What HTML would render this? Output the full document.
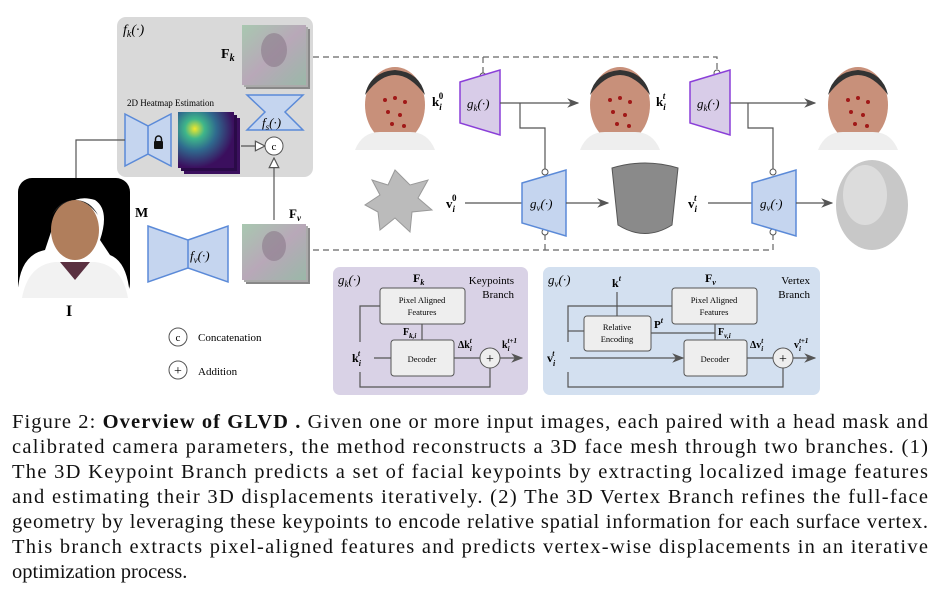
<!DOCTYPE html>
<html><head><meta charset="utf-8"><style>body{margin:0;background:#fff}svg{display:block}</style></head><body>
<svg width="941" height="593" viewBox="0 0 941 593" xmlns="http://www.w3.org/2000/svg" font-family="Liberation Serif, serif">
<defs>
<radialGradient id="hm" cx="0.3" cy="0.3" r="0.7"><stop offset="0" stop-color="#f2e82a"/><stop offset="0.25" stop-color="#3fb68a"/><stop offset="0.55" stop-color="#2f6a8e"/><stop offset="1" stop-color="#3b0f5e"/></radialGradient>
<linearGradient id="ft" x1="0" y1="0" x2="1" y2="1"><stop offset="0" stop-color="#a8c8b0"/><stop offset="0.5" stop-color="#b8a8b8"/><stop offset="1" stop-color="#9ab8a8"/></linearGradient>
<marker id="ar" markerWidth="10" markerHeight="8" refX="9" refY="4" orient="auto"><path d="M0,0 L10,4 L0,8 L3,4z" fill="#555"/></marker>
<marker id="oa" markerWidth="10" markerHeight="10" refX="9" refY="5" orient="auto"><path d="M1,1 L9,5 L1,9z" fill="#fff" stroke="#555" stroke-width="1"/></marker>
</defs>
<rect x="117" y="17" width="196" height="160" rx="9" fill="#d9d9d9"/>
<text x="123" y="34" font-size="14" font-style="italic">f<tspan font-size="10" dy="3">k</tspan><tspan dy="-3">(·)</tspan></text>
<text x="221" y="58" font-size="14" font-weight="bold">F<tspan font-size="10" font-style="italic" dy="3">k</tspan></text>
<g><rect x="246" y="29" width="64" height="60" fill="#888"/><rect x="244" y="27" width="64" height="60" fill="#aaa"/><rect x="242" y="25" width="64" height="60" fill="url(#ft)"/><ellipse cx="274" cy="50" rx="13" ry="17" fill="#8a7a8a" opacity="0.6"/></g>
<path d="M247,95 L303,95 L285,112 L303,130 L247,130 L265,112z" fill="#c5d5ef" stroke="#5b8ad8" stroke-width="1.5"/>
<text x="262" y="127" font-size="13" font-style="italic">f<tspan font-size="9" dy="3">s</tspan><tspan dy="-3">(·)</tspan></text>
<text x="127" y="106" font-size="9">2D Heatmap Estimation</text>
<path d="M125,114 L148,126 L148,154 L125,166z M148,126 L171,114 L171,166 L148,154z" fill="#c5d5ef" stroke="#5b8ad8" stroke-width="1.5"/>
<rect x="154" y="141" width="9" height="8" rx="1" fill="#111"/><path d="M155.5,142 v-3 a3,3 0 0 1 6,0 v3" fill="none" stroke="#111" stroke-width="1.5"/>
<rect x="184" y="118" width="56" height="56" fill="#3b0f5e"/><rect x="181" y="115" width="56" height="56" fill="#2a0a48"/><rect x="178" y="112" width="56" height="56" fill="url(#hm)"/>
<line x1="241" y1="146" x2="265" y2="146" stroke="#555" stroke-width="1.2" marker-end="url(#oa)"/>
<circle cx="274" cy="146" r="9" fill="#fff" stroke="#555"/><text x="274" y="150" font-size="11" text-anchor="middle">c</text>
<line x1="274" y1="220" x2="274" y2="158" stroke="#555" stroke-width="1.2" marker-end="url(#oa)"/>
<polyline points="125,140 76,140 76,178" fill="none" stroke="#555" stroke-width="1.2"/>
<rect x="18" y="178" width="112" height="120" rx="14" fill="#000"/>
<path d="M18,290 Q20,255 45,250 L55,220 Q70,192 95,200 Q110,210 100,240 L110,255 Q128,262 130,298 L18,298z" fill="#fff"/>
<ellipse cx="75" cy="230" rx="24" ry="30" fill="#b07e5c"/><path d="M52,215 Q75,185 98,215 Q90,200 75,200 Q60,200 52,215z" fill="#222"/>
<path d="M22,298 Q28,265 55,262 L95,262 Q122,265 128,298z" fill="#f2f2f2"/><path d="M60,262 L75,280 L90,262z" fill="#5a3040"/>
<text x="66" y="316" font-size="16" font-weight="bold">I</text>
<text x="135" y="217" font-size="14" font-weight="bold">M</text>
<path d="M148,226 L188,240 L188,268 L148,282z M188,240 L228,226 L228,282 L188,268z" fill="#c5d5ef" stroke="#5b8ad8" stroke-width="1.5"/>
<text x="190" y="260" font-size="13" font-style="italic">f<tspan font-size="9" dy="3">v</tspan><tspan dy="-3">(·)</tspan></text>
<text x="289" y="218" font-size="13" font-weight="bold">F<tspan font-size="9" font-style="italic" dy="3">v</tspan></text>
<g><rect x="246" y="228" width="64" height="56" fill="#888"/><rect x="244" y="226" width="64" height="56" fill="#aaa"/><rect x="242" y="224" width="64" height="56" fill="url(#ft)"/><ellipse cx="274" cy="246" rx="12" ry="15" fill="#8a7a8a" opacity="0.6"/></g>
<polyline points="313,57 717,57 717,70" fill="none" stroke="#666" stroke-width="1.2" stroke-dasharray="6,4"/>
<line x1="483" y1="57" x2="483" y2="78" stroke="#666" stroke-width="1.2" stroke-dasharray="6,4"/>
<polyline points="313,250 773,250 773,232" fill="none" stroke="#666" stroke-width="1.2" stroke-dasharray="6,4"/>
<line x1="545" y1="250" x2="545" y2="232" stroke="#666" stroke-width="1.2" stroke-dasharray="6,4"/>
<circle cx="483" cy="76" r="3" fill="#fff" stroke="#555"/><circle cx="717" cy="73" r="3" fill="#fff" stroke="#555"/>
<circle cx="545" cy="232" r="3" fill="#fff" stroke="#555"/><circle cx="773" cy="232" r="3" fill="#fff" stroke="#555"/>
<g id="face"><ellipse cx="395" cy="105" rx="30" ry="38" fill="#c8907a"/><path d="M365,95 Q395,55 425,95 Q420,72 395,70 Q370,72 365,95z" fill="#333"/><path d="M355,150 Q362,132 380,132 L410,132 Q428,132 435,150z" fill="#eee"/></g>
<g fill="#a01818"><circle cx="385" cy="100" r="2"/><circle cx="395" cy="98" r="2"/><circle cx="405" cy="102" r="2"/><circle cx="388" cy="112" r="2"/><circle cx="400" cy="115" r="2"/><circle cx="392" cy="124" r="2"/><circle cx="404" cy="126" r="2"/></g>
<text x="432" y="106" font-size="13" font-weight="bold">k<tspan font-size="9" font-style="italic" dy="4">i</tspan><tspan font-size="9" dx="-3" dy="-11">0</tspan></text>
<path d="M460,82 L500,70 L500,135 L460,123z" fill="#d8cce8" stroke="#8a3fd8" stroke-width="1.5"/>
<text x="467" y="108" font-size="13" font-style="italic">g<tspan font-size="9" dy="3">k</tspan><tspan dy="-3">(·)</tspan></text>
<line x1="500" y1="103" x2="578" y2="103" stroke="#555" stroke-width="1.2" marker-end="url(#ar)"/>
<use href="#face" x="225"/>
<g fill="#a01818" transform="translate(225,0)"><circle cx="385" cy="100" r="2"/><circle cx="395" cy="98" r="2"/><circle cx="405" cy="102" r="2"/><circle cx="388" cy="112" r="2"/><circle cx="400" cy="115" r="2"/><circle cx="392" cy="124" r="2"/><circle cx="404" cy="126" r="2"/></g>
<text x="656" y="106" font-size="13" font-weight="bold">k<tspan font-size="9" font-style="italic" dy="4">i</tspan><tspan font-size="9" font-style="italic" dx="-3" dy="-11">t</tspan></text>
<path d="M690,82 L730,70 L730,135 L690,123z" fill="#d8cce8" stroke="#8a3fd8" stroke-width="1.5"/>
<text x="697" y="108" font-size="13" font-style="italic">g<tspan font-size="9" dy="3">k</tspan><tspan dy="-3">(·)</tspan></text>
<line x1="730" y1="103" x2="815" y2="103" stroke="#555" stroke-width="1.2" marker-end="url(#ar)"/>
<use href="#face" x="463"/>
<g fill="#a01818" transform="translate(463,0)"><circle cx="385" cy="100" r="2"/><circle cx="395" cy="98" r="2"/><circle cx="405" cy="102" r="2"/><circle cx="388" cy="112" r="2"/><circle cx="400" cy="115" r="2"/><circle cx="392" cy="124" r="2"/><circle cx="404" cy="126" r="2"/></g>
<polyline points="520,103 520,128 545,128 545,170" fill="none" stroke="#555" stroke-width="1.2"/>
<circle cx="545" cy="172" r="3" fill="#fff" stroke="#555"/>
<polyline points="748,103 748,128 773,128 773,170" fill="none" stroke="#555" stroke-width="1.2"/>
<circle cx="773" cy="172" r="3" fill="#fff" stroke="#555"/>
<polygon points="395,170 410,185 428,180 418,198 432,210 412,212 410,232 395,218 380,230 378,212 365,205 380,195 372,180 388,185" fill="#bbb" stroke="#999"/>
<text x="446" y="208" font-size="13" font-weight="bold">v<tspan font-size="9" font-style="italic" dy="4">i</tspan><tspan font-size="9" dx="-3" dy="-11">0</tspan></text>
<line x1="465" y1="203" x2="522" y2="203" stroke="#555" stroke-width="1.2"/>
<path d="M522,183 L566,170 L566,236 L522,223z" fill="#c5d5ef" stroke="#5b8ad8" stroke-width="1.5"/>
<text x="530" y="208" font-size="13" font-style="italic">g<tspan font-size="9" dy="3">v</tspan><tspan dy="-3">(·)</tspan></text>
<line x1="566" y1="203" x2="608" y2="203" stroke="#555" stroke-width="1.2" marker-end="url(#ar)"/>
<path d="M612,168 Q645,158 678,168 L672,225 Q645,242 618,225z" fill="#8a8a8a" stroke="#555"/>
<text x="688" y="208" font-size="13" font-weight="bold">v<tspan font-size="9" font-style="italic" dy="4">i</tspan><tspan font-size="9" font-style="italic" dx="-3" dy="-11">t</tspan></text>
<line x1="708" y1="203" x2="752" y2="203" stroke="#555" stroke-width="1.2"/>
<path d="M752,183 L796,170 L796,236 L752,223z" fill="#c5d5ef" stroke="#5b8ad8" stroke-width="1.5"/>
<text x="760" y="208" font-size="13" font-style="italic">g<tspan font-size="9" dy="3">v</tspan><tspan dy="-3">(·)</tspan></text>
<line x1="796" y1="203" x2="832" y2="203" stroke="#555" stroke-width="1.2" marker-end="url(#ar)"/>
<ellipse cx="872" cy="205" rx="36" ry="45" fill="#c8c8c8"/><ellipse cx="865" cy="195" rx="22" ry="30" fill="#dcdcdc"/>
<circle cx="178" cy="337" r="9" fill="#fff" stroke="#555"/><text x="178" y="341" font-size="11" text-anchor="middle">c</text>
<text x="198" y="341" font-size="11">Concatenation</text>
<circle cx="178" cy="370" r="9" fill="#fff" stroke="#555"/><text x="178" y="375" font-size="14" text-anchor="middle">+</text>
<text x="198" y="375" font-size="11">Addition</text>
<rect x="333" y="267" width="195" height="128" rx="7" fill="#d9d2e6"/>
<text x="338" y="284" font-size="13" font-style="italic">g<tspan font-size="9" dy="3">k</tspan><tspan dy="-3">(·)</tspan></text>
<text x="413" y="282" font-size="12" font-weight="bold">F<tspan font-size="8" font-style="italic" dy="3">k</tspan></text>
<text x="514" y="284" font-size="11" text-anchor="end">Keypoints</text><text x="514" y="298" font-size="11" text-anchor="end">Branch</text>
<rect x="380" y="288" width="85" height="36" rx="3" fill="#eee" stroke="#555"/>
<text x="422" y="303" font-size="8.5" text-anchor="middle">Pixel Aligned</text><text x="422" y="315" font-size="8.5" text-anchor="middle">Features</text>
<polyline points="380,306 360,306 360,342" fill="none" stroke="#555" stroke-width="1.2"/>
<line x1="422" y1="324" x2="422" y2="340" stroke="#555" stroke-width="1.2"/>
<text x="403" y="335" font-size="10" font-weight="bold">F<tspan font-size="7" font-style="italic" dy="3">k,i</tspan></text>
<rect x="391" y="340" width="63" height="36" rx="3" fill="#eee" stroke="#555"/>
<text x="422" y="362" font-size="8.5" text-anchor="middle">Decoder</text>
<text x="352" y="362" font-size="12" font-weight="bold">k<tspan font-size="8" font-style="italic" dy="4">i</tspan><tspan font-size="8" font-style="italic" dx="-3" dy="-10">t</tspan></text>
<line x1="374" y1="358" x2="391" y2="358" stroke="#555" stroke-width="1.2"/>
<line x1="454" y1="358" x2="480" y2="358" stroke="#555" stroke-width="1.2"/>
<text x="458" y="348" font-size="10" font-weight="bold">Δk<tspan font-size="7" font-style="italic" dy="3">i</tspan><tspan font-size="7" font-style="italic" dx="-2" dy="-8">t</tspan></text>
<circle cx="490" cy="358" r="10" fill="#eee" stroke="#555"/><text x="490" y="363" font-size="14" text-anchor="middle">+</text>
<line x1="500" y1="358" x2="522" y2="358" stroke="#555" stroke-width="1.2" marker-end="url(#ar)"/>
<text x="502" y="348" font-size="10" font-weight="bold">k<tspan font-size="7" font-style="italic" dy="3">i</tspan><tspan font-size="7" font-style="italic" dx="-2" dy="-8">t+1</tspan></text>
<polyline points="360,372 360,387 490,387 490,368" fill="none" stroke="#555" stroke-width="1.2"/>
<rect x="543" y="267" width="277" height="128" rx="7" fill="#d3e0f0"/>
<text x="548" y="284" font-size="13" font-style="italic">g<tspan font-size="9" dy="3">v</tspan><tspan dy="-3">(·)</tspan></text>
<text x="612" y="287" font-size="12" font-weight="bold">k<tspan font-size="8" font-style="italic" dy="-6">t</tspan></text>
<text x="705" y="282" font-size="12" font-weight="bold">F<tspan font-size="8" font-style="italic" dy="3">v</tspan></text>
<text x="810" y="284" font-size="11" text-anchor="end">Vertex</text><text x="810" y="298" font-size="11" text-anchor="end">Branch</text>
<rect x="672" y="288" width="85" height="36" rx="3" fill="#eee" stroke="#555"/>
<text x="714" y="303" font-size="8.5" text-anchor="middle">Pixel Aligned</text><text x="714" y="315" font-size="8.5" text-anchor="middle">Features</text>
<polyline points="672,306 568,306 568,342" fill="none" stroke="#555" stroke-width="1.2"/>
<line x1="617" y1="292" x2="617" y2="316" stroke="#555" stroke-width="1.2"/>
<line x1="568" y1="331" x2="584" y2="331" stroke="#555" stroke-width="1.2"/>
<rect x="584" y="316" width="67" height="35" rx="3" fill="#eee" stroke="#555"/>
<text x="617" y="330" font-size="8.5" text-anchor="middle">Relative</text><text x="617" y="342" font-size="8.5" text-anchor="middle">Encoding</text>
<line x1="651" y1="333" x2="715" y2="333" stroke="#555" stroke-width="1.2"/>
<text x="654" y="328" font-size="11" font-weight="bold">P<tspan font-size="8" font-style="italic" dy="-5">t</tspan></text>
<line x1="715" y1="324" x2="715" y2="340" stroke="#555" stroke-width="1.2"/>
<text x="718" y="335" font-size="10" font-weight="bold">F<tspan font-size="7" font-style="italic" dy="3">v,i</tspan></text>
<rect x="684" y="340" width="63" height="36" rx="3" fill="#eee" stroke="#555"/>
<text x="715" y="362" font-size="8.5" text-anchor="middle">Decoder</text>
<text x="547" y="362" font-size="12" font-weight="bold">v<tspan font-size="8" font-style="italic" dy="4">i</tspan><tspan font-size="8" font-style="italic" dx="-3" dy="-10">t</tspan></text>
<line x1="570" y1="358" x2="683" y2="358" stroke="#555" stroke-width="1.2" marker-end="url(#ar)"/>
<line x1="747" y1="358" x2="773" y2="358" stroke="#555" stroke-width="1.2"/>
<text x="750" y="348" font-size="10" font-weight="bold">Δv<tspan font-size="7" font-style="italic" dy="3">i</tspan><tspan font-size="7" font-style="italic" dx="-2" dy="-8">t</tspan></text>
<circle cx="783" cy="358" r="10" fill="#eee" stroke="#555"/><text x="783" y="363" font-size="14" text-anchor="middle">+</text>
<line x1="793" y1="358" x2="815" y2="358" stroke="#555" stroke-width="1.2" marker-end="url(#ar)"/>
<text x="794" y="348" font-size="10" font-weight="bold">v<tspan font-size="7" font-style="italic" dy="3">i</tspan><tspan font-size="7" font-style="italic" dx="-2" dy="-8">t+1</tspan></text>
<polyline points="568,372 568,387 783,387 783,368" fill="none" stroke="#555" stroke-width="1.2"/>
<g font-size="20.5" fill="#111">
<text x="12" y="428" textLength="916" lengthAdjust="spacing">Figure 2: <tspan font-weight="bold">Overview of GLVD .</tspan> Given one or more input images, each paired with a head mask and</text>
<text x="12" y="453" textLength="916" lengthAdjust="spacing">calibrated camera parameters, the method reconstructs a 3D face mesh through two branches. (1)</text>
<text x="12" y="478" textLength="916" lengthAdjust="spacing">The 3D Keypoint Branch predicts a set of facial keypoints by extracting localized image features</text>
<text x="12" y="503" textLength="916" lengthAdjust="spacing">and estimating their 3D displacements iteratively. (2) The 3D Vertex Branch refines the full-face</text>
<text x="12" y="528" textLength="916" lengthAdjust="spacing">geometry by leveraging these keypoints to encode relative spatial information for each surface vertex.</text>
<text x="12" y="553" textLength="916" lengthAdjust="spacing">This branch extracts pixel-aligned features and predicts vertex-wise displacements in an iterative</text>
<text x="12" y="578">optimization process.</text>
</g>
</svg>
</body></html>
